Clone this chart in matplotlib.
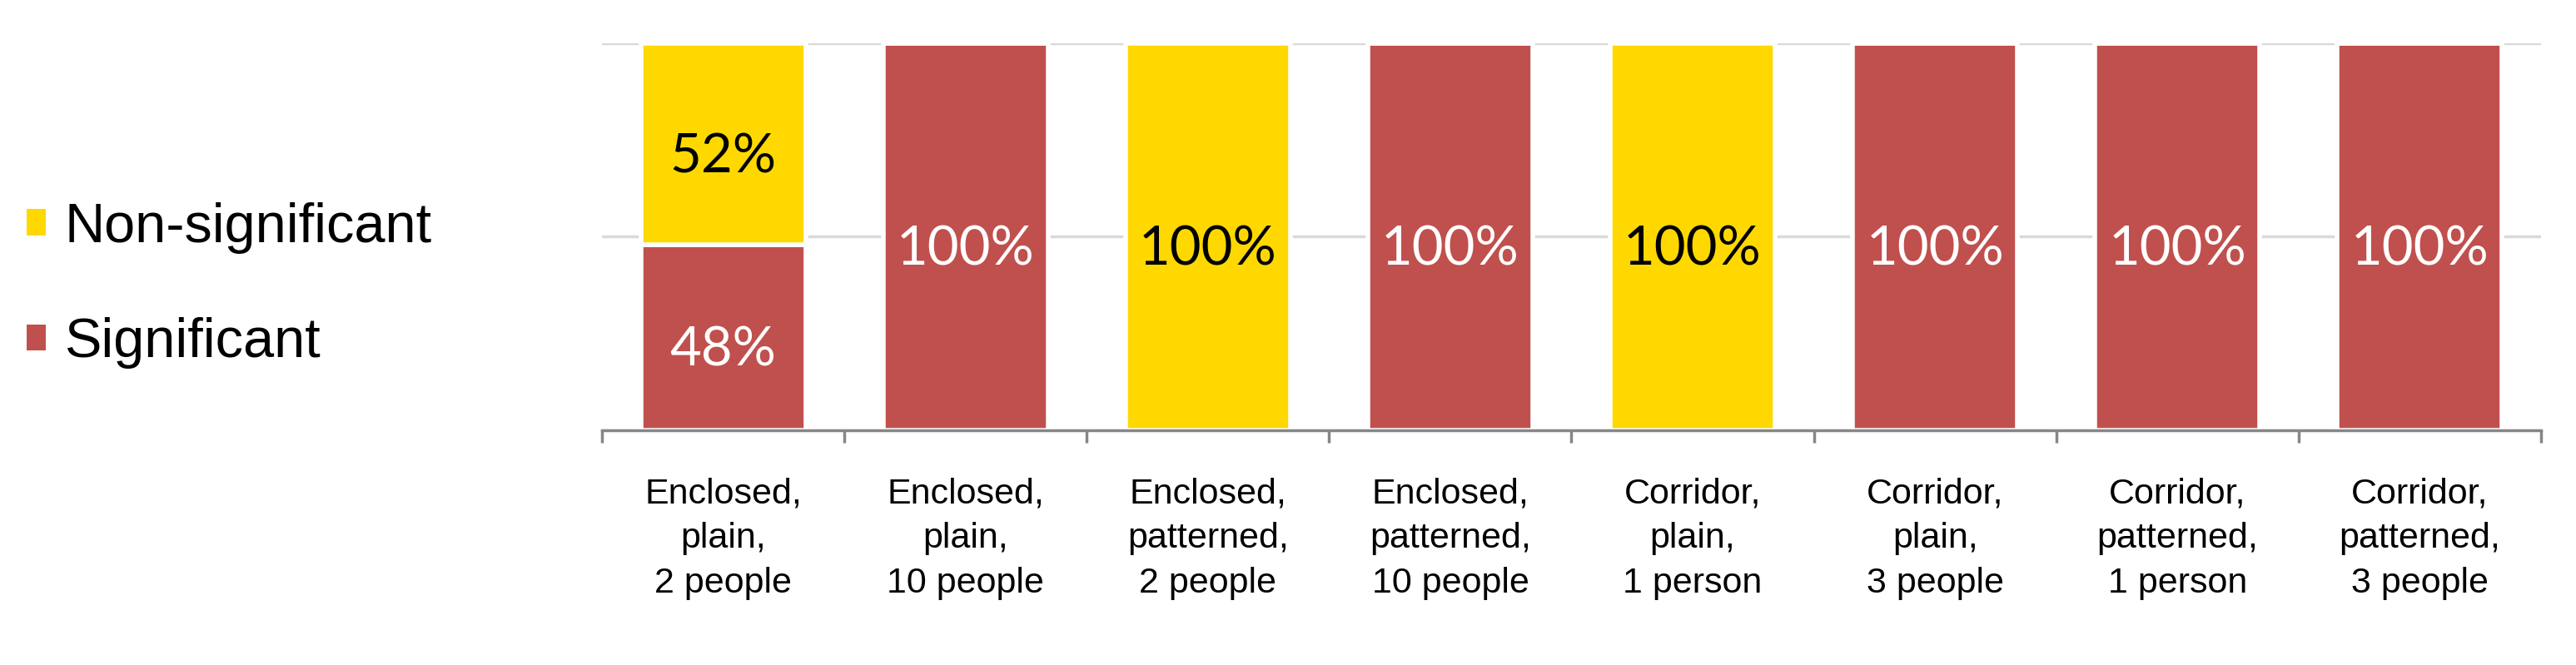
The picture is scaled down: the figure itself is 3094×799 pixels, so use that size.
import numpy as np
import matplotlib.pyplot as plt
from matplotlib.patches import Patch

categories = [
    'Enclosed,\nplain,\n2 people',
    'Enclosed,\nplain,\n10 people',
    'Enclosed,\npatterned,\n2 people',
    'Enclosed,\npatterned,\n10 people',
    'Corridor,\nplain,\n1 person',
    'Corridor,\nplain,\n3 people',
    'Corridor,\npatterned,\n1 person',
    'Corridor,\npatterned,\n3 people',
]
significant = [48, 100, 0, 100, 0, 100, 100, 100]
non_significant = [52, 0, 100, 0, 100, 0, 0, 0]

color_sig = '#C0504D'
color_non = '#FFD800'

if __name__ == '__main__':
    fig = plt.figure(figsize=(30.94, 7.99), dpi=100)
    ax = fig.add_axes([0.2337, 0.353, 0.7527, 0.582])

    x = np.arange(len(categories))
    sig = np.array(significant)
    non = np.array(non_significant)
    width = 0.68

    ax.bar(x, sig, width, color=color_sig, edgecolor='white', linewidth=4, zorder=3)
    ax.bar(x, non, width, bottom=sig, color=color_non, edgecolor='white', linewidth=4, zorder=3)

    # labels sit a bit below the segment centre, like the original
    shift = 7.4
    for i in range(len(x)):
        if sig[i] > 0:
            ax.text(x[i], sig[i] / 2.0 - shift, '{}%'.format(sig[i]), ha='center', va='baseline',
                    color='white', fontsize=47, family='Lato', zorder=4)
        if non[i] > 0:
            ax.text(x[i], sig[i] + non[i] / 2.0 - shift, '{}%'.format(non[i]), ha='center', va='baseline',
                    color='black', fontsize=47, family='Lato', zorder=4)

    ax.set_xlim(-0.5, len(x) - 0.5)
    ax.set_ylim(0, 100)
    ax.set_yticks([0, 50, 100])
    ax.yaxis.grid(True, color='#D9D9D9', linewidth=2.5, zorder=0)
    ax.tick_params(axis='y', left=False, labelleft=False)

    for s in ['top', 'right', 'left']:
        ax.spines[s].set_visible(False)
    ax.spines['bottom'].set_color('#868686')
    ax.spines['bottom'].set_linewidth(2.5)
    ax.spines['bottom'].set_zorder(5)

    ax.set_xticks(x)
    ax.set_xticklabels(categories, family='Liberation Sans', fontsize=31, linespacing=1.43)
    ax.tick_params(axis='x', which='major', length=0, pad=41)
    ax.set_xticks(np.arange(-0.5, len(x), 1.0), minor=True)
    ax.tick_params(axis='x', which='minor', length=11, width=2.5, color='#868686', direction='out')

    handles = [Patch(facecolor=color_non, label='Non-significant'),
               Patch(facecolor=color_sig, label='Significant')]
    fig.legend(handles=handles, loc='center left', bbox_to_anchor=(-0.009, 0.5707),
               frameon=False, prop={'family': 'Liberation Sans', 'size': 48},
               handlelength=0.35, handleheight=0.35, handletextpad=0.33,
               labelspacing=1.15)

    plt.savefig('out.png', dpi=100)
